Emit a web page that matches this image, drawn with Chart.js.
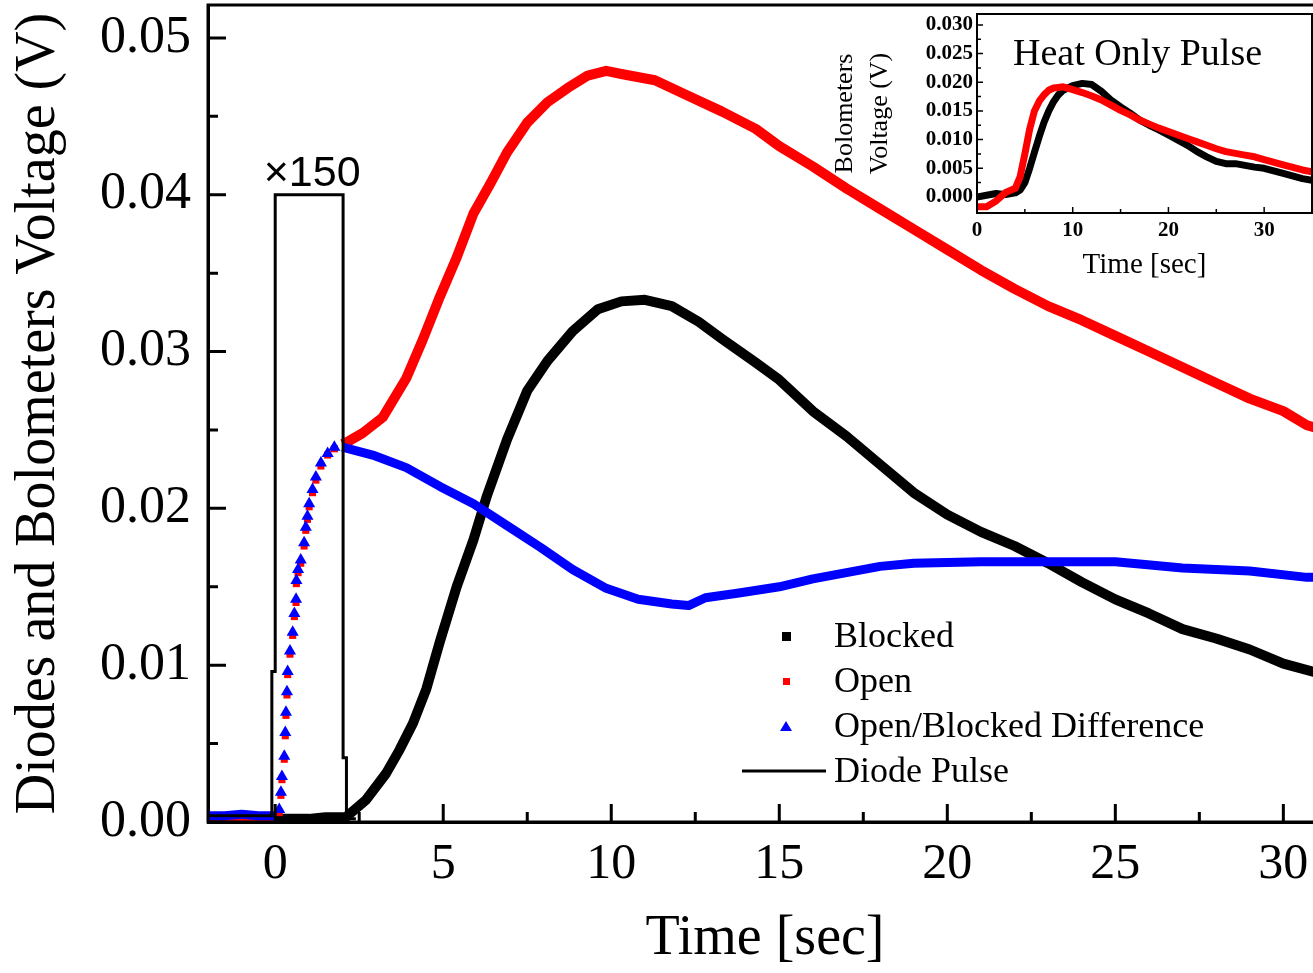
<!DOCTYPE html>
<html>
<head>
<meta charset="utf-8">
<script src="https://cdn.jsdelivr.net/npm/chart.js@4.4.1/dist/chart.umd.min.js"></script>
<style>
  html, body { margin: 0; padding: 0; background: #fff; overflow: hidden; }
  #wrap { position: relative; width: 1313px; height: 973px; overflow: hidden; }
  #main { position: absolute; left: 0; top: 0; }
  #inset { position: absolute; left: 820px; top: 0; }
</style>
</head>
<body>
<div id="wrap">
  <canvas id="main" width="1340" height="973"></canvas>
  <canvas id="inset" width="500" height="295"></canvas>
</div>
<script>
// ---- main plot data (time in s, voltage in V) ----
const blockedTime = [-2, -1, 0, 1, 1.5, 2.1, 2.7, 3.3, 3.7, 4.1, 4.5, 4.9, 5.4, 5.9, 6.3, 6.9, 7.5, 8.1, 8.85, 9.6, 10.3, 11.0, 11.8, 12.6, 13.3, 14.3, 15, 16, 17, 18, 19, 20, 21, 22, 23, 24, 25, 26, 27, 28, 29, 30, 31.2];
const blockedV = [0.0002, 0.0002, 0.0002, 0.0002, 0.0003, 0.0003, 0.0014, 0.0031, 0.0046, 0.0063, 0.0085, 0.0115, 0.015, 0.018, 0.0208, 0.0244, 0.0275, 0.0294, 0.0313, 0.0327, 0.0332, 0.0333, 0.0329, 0.0319, 0.0308, 0.0293, 0.0282, 0.0262, 0.0246, 0.0228, 0.021, 0.0196, 0.0185, 0.0176, 0.0165, 0.0153, 0.0142, 0.0133, 0.0123, 0.0117, 0.011, 0.0101, 0.0094];

const openTime = [-2, -1.5, -1, -0.5, 0, 0.12, 0.17, 0.2, 0.27, 0.3, 0.32, 0.35, 0.37, 0.44, 0.52, 0.57, 0.62, 0.63, 0.68, 0.76, 0.86, 0.91, 0.96, 1.01, 1.11, 1.21, 1.36, 1.56, 1.76, 2.0, 2.2, 2.6, 3.2, 3.9, 4.4, 4.9, 5.4, 5.9, 6.4, 6.9, 7.5, 8.1, 8.7, 9.3, 9.85, 10.3, 11.3, 12.3, 13.3, 14.3, 15, 16, 17, 18, 19, 20, 21, 22, 23, 24, 25, 26, 27, 28, 29, 30, 30.7, 31.2];
const openV = [0.0003, 0.0003, 0.0004, 0.0003, 0.0003, 0.0006, 0.0017, 0.0027, 0.0040, 0.0055, 0.0068, 0.0081, 0.0094, 0.0107, 0.0119, 0.0131, 0.0140, 0.0152, 0.0159, 0.0165, 0.0176, 0.0186, 0.0193, 0.0201, 0.0210, 0.0218, 0.0227, 0.0234, 0.0238, 0.0241, 0.0243, 0.0248, 0.0258, 0.0283, 0.0308, 0.0335, 0.036, 0.0388, 0.0407, 0.0427, 0.0446, 0.0459, 0.0468, 0.0476, 0.0479, 0.0477, 0.0473, 0.0463, 0.0453, 0.0442, 0.0431, 0.0418, 0.0404, 0.0391, 0.0378, 0.0365, 0.0352, 0.034, 0.0329, 0.032, 0.031, 0.03, 0.029, 0.028, 0.027, 0.0262, 0.0253, 0.025];

const diffTime = [-2, -1.5, -1, -0.5, 0, 0.12, 0.17, 0.2, 0.27, 0.3, 0.32, 0.35, 0.37, 0.44, 0.52, 0.57, 0.62, 0.63, 0.68, 0.76, 0.86, 0.91, 0.96, 1.01, 1.11, 1.21, 1.36, 1.56, 1.76, 2.0, 2.9, 3.9, 4.9, 5.9, 6.9, 7.9, 8.85, 9.85, 10.8, 11.8, 12.3, 12.8, 13.8, 15, 16, 17, 18, 19, 21, 23, 25, 27, 29, 30.7, 31.2];
const diffV = [0.0004, 0.0004, 0.0005, 0.0004, 0.0004, 0.0008, 0.0019, 0.0029, 0.0042, 0.0057, 0.0070, 0.0083, 0.0096, 0.0109, 0.0121, 0.0133, 0.0142, 0.0154, 0.0161, 0.0167, 0.0178, 0.0188, 0.0195, 0.0203, 0.0212, 0.0220, 0.0229, 0.0235, 0.0239, 0.0239, 0.0234, 0.0226, 0.0214, 0.0203, 0.0189, 0.0175, 0.0161, 0.0149, 0.0142, 0.0139, 0.0138, 0.0143, 0.0146, 0.015, 0.0155, 0.0159, 0.0163, 0.0165, 0.0166, 0.0166, 0.0166, 0.0162, 0.016, 0.0156, 0.0156];

const pulseTime = [-2, -0.1, -0.1, 0, 0, 2.02, 2.02, 2.12, 2.12, 2.4];
const pulseV = [0.0004, 0.0004, 0.0096, 0.0096, 0.04, 0.04, 0.0041, 0.0041, 0.0002, 0.0002];

const timeTicks = [0, 5, 10, 15, 20, 25, 30];
const timeMinor = [2.5, 7.5, 12.5, 17.5, 22.5, 27.5];
const voltTicks = [0, 0.01, 0.02, 0.03, 0.04, 0.05];
const voltMinor = [0.005, 0.015, 0.025, 0.035, 0.045];

const legendNames = ['Blocked', 'Open', 'Open/Blocked Difference', 'Diode Pulse'];

// ---- inset (heat only pulse) ----
const insetTime = [0, 1, 2, 3, 4, 4.5, 5, 5.5, 6, 6.5, 7, 7.5, 8, 8.5, 9, 10, 11, 12, 13, 14, 15, 16, 17, 18, 19, 20, 21, 22, 23, 24, 25, 26, 27, 28, 29, 30, 32, 34, 35];
const insetBlocked = [0.0, 0.0003, 0.0006, 0.0004, 0.0007, 0.0012, 0.0025, 0.005, 0.0078, 0.0105, 0.013, 0.015, 0.0166, 0.0178, 0.0186, 0.0194, 0.0198, 0.0196, 0.0184, 0.0169, 0.0157, 0.0146, 0.0134, 0.0125, 0.0117, 0.0108, 0.0099, 0.009, 0.0079, 0.007, 0.0062, 0.0058, 0.0058, 0.0055, 0.0052, 0.005, 0.0041, 0.0032, 0.0029];
const insetOpen = [-0.0017, -0.0017, -0.0007, 0.0008, 0.0015, 0.0035, 0.0075, 0.0118, 0.015, 0.0167, 0.0178, 0.0186, 0.019, 0.0191, 0.0192, 0.0187, 0.0182, 0.0176, 0.0169, 0.016, 0.0151, 0.0143, 0.0134, 0.0127, 0.012, 0.0114, 0.0108, 0.0102, 0.0096, 0.009, 0.0084, 0.0079, 0.0076, 0.0073, 0.007, 0.0065, 0.0056, 0.0047, 0.0044];
const insetTimeTicks = [0, 10, 20, 30];
const insetTimeMinor = [5, 15, 25, 35];
const insetVoltTicks = [0, 0.005, 0.01, 0.015, 0.02, 0.025, 0.03];
const insetVoltMinor = [0.0025, 0.0075, 0.0125, 0.0175, 0.0225, 0.0275];

const serif = '"Liberation Serif", "Times New Roman", serif';
const pts = (xs, ys) => xs.map((x, i) => ({ x: x, y: ys[i] }));
const inRise = x => x > 0.05 && x < 1.9;

// box frame + inward ticks, since chart.js has no minor ticks
function framePlugin(cfg) {
  return {
    id: 'frame',
    afterDraw(chart) {
      const { ctx, chartArea: a, scales } = chart;
      ctx.save();
      ctx.strokeStyle = '#000';
      ctx.lineWidth = cfg.frameWidth;
      ctx.strokeRect(a.left, a.top, a.right - a.left, a.bottom - a.top);
      ctx.lineWidth = cfg.tickWidth;
      ctx.beginPath();
      const xt = (list, len) => list.forEach(v => {
        const px = scales.x.getPixelForValue(v);
        ctx.moveTo(px, a.bottom); ctx.lineTo(px, a.bottom - len);
      });
      const yt = (list, len) => list.forEach(v => {
        const py = scales.y.getPixelForValue(v);
        ctx.moveTo(a.left, py); ctx.lineTo(a.left + len, py);
      });
      xt(cfg.xMajor, cfg.major); xt(cfg.xMinor, cfg.minor);
      yt(cfg.yMajor, cfg.major); yt(cfg.yMinor, cfg.minor);
      ctx.stroke();
      ctx.restore();
      if (cfg.extra) cfg.extra(chart);
    }
  };
}

function mainExtras(chart) {
  const { ctx, scales } = chart;
  ctx.save();
  // x150 label over the diode pulse
  ctx.fillStyle = '#000';
  ctx.font = '43px "Liberation Sans", Arial, sans-serif';
  ctx.textAlign = 'center';
  ctx.textBaseline = 'alphabetic';
  ctx.fillText('\u00d7150', scales.x.getPixelForValue(1.1), scales.y.getPixelForValue(0.04) - 9);

  // legend
  const lx = 786, tx = 834, rows = [636, 681, 726, 771];
  ctx.font = '36px ' + serif;
  ctx.textAlign = 'left';
  ctx.textBaseline = 'middle';
  rows.forEach((y, i) => {
    ctx.fillStyle = '#000';
    ctx.fillText(legendNames[i], tx, y + 2);
  });
  ctx.fillStyle = '#000';
  ctx.fillRect(lx - 4, rows[0] - 4, 9, 9);
  ctx.fillStyle = '#ff0000';
  ctx.fillRect(lx - 3, rows[1] - 3, 7, 7);
  ctx.fillStyle = '#0000ff';
  ctx.beginPath();
  ctx.moveTo(lx, rows[2] - 5); ctx.lineTo(lx + 6, rows[2] + 5); ctx.lineTo(lx - 6, rows[2] + 5);
  ctx.closePath(); ctx.fill();
  ctx.strokeStyle = '#000';
  ctx.lineWidth = 3;
  ctx.beginPath(); ctx.moveTo(742, rows[3]); ctx.lineTo(826, rows[3]); ctx.stroke();
  ctx.restore();
}

function insetExtras(chart) {
  const { ctx, chartArea: a } = chart;
  ctx.save();
  ctx.fillStyle = '#000';
  ctx.font = '38px ' + serif;
  ctx.textAlign = 'left';
  ctx.textBaseline = 'alphabetic';
  ctx.fillText('Heat Only Pulse', a.left + 36, a.top + 51);
  ctx.restore();
}

const noPadY = s => { s.paddingTop = 0; s.paddingBottom = 0; };
const noPadX = s => { s.paddingLeft = 0; s.paddingRight = 0; };

new Chart(document.getElementById('main'), {
  type: 'line',
  data: {
    datasets: [
      {
        label: legendNames[3], data: pts(pulseTime, pulseV),
        borderColor: '#000', borderWidth: 3, pointRadius: 0, tension: 0
      },
      {
        label: legendNames[2], data: pts(diffTime, diffV),
        borderColor: '#0000ff', backgroundColor: '#0000ff', borderWidth: 9,
        pointStyle: 'triangle', pointBorderWidth: 0,
        pointRadius: c => (c.raw && inRise(c.raw.x)) ? 7 : 0,
        segment: { borderColor: c => (c.p1.parsed.x > 0.01 && c.p0.parsed.x < 1.8) ? 'rgba(0,0,0,0)' : undefined },
        tension: 0, borderJoinStyle: 'round'
      },
      {
        label: legendNames[1], data: pts(openTime, openV),
        borderColor: '#ff0000', backgroundColor: '#ff0000', borderWidth: 10,
        pointStyle: 'rect', pointBorderWidth: 0,
        pointRadius: c => (c.raw && inRise(c.raw.x)) ? 5 : 0,
        segment: { borderColor: c => (c.p1.parsed.x > 0.01 && c.p0.parsed.x < 1.8) ? 'rgba(0,0,0,0)' : undefined },
        tension: 0, borderJoinStyle: 'round'
      },
      {
        label: legendNames[0], data: pts(blockedTime, blockedV),
        borderColor: '#000', borderWidth: 10, pointRadius: 0,
        tension: 0, borderJoinStyle: 'round'
      }
    ]
  },
  options: {
    responsive: false, animation: false, devicePixelRatio: 1,
    layout: { padding: { top: 5, right: 18, bottom: 0, left: 0 } },
    plugins: { legend: { display: false }, tooltip: { enabled: false } },
    scales: {
      x: {
        type: 'linear', min: -2, max: 31.15,
        afterFit: s => { s.height = 151; noPadX(s); },
        afterBuildTicks: s => { s.ticks = timeTicks.map(v => ({ value: v })); },
        grid: { display: false, drawTicks: false },
        border: { display: true, color: '#000', width: 3 },
        ticks: { color: '#000', font: { family: serif, size: 50 }, padding: 13, maxRotation: 0, autoSkip: false, callback: v => String(v) },
        title: { display: true, text: 'Time [sec]', color: '#000', font: { family: serif, size: 56 }, padding: { top: 0, bottom: 0 } }
      },
      y: {
        type: 'linear', min: 0, max: 0.0521,
        afterFit: s => { s.width = 208; noPadY(s); },
        afterBuildTicks: s => { s.ticks = voltTicks.map(v => ({ value: v })); },
        grid: { display: false, drawTicks: false },
        border: { display: true, color: '#000', width: 3 },
        ticks: { color: '#000', font: { family: serif, size: 52 }, padding: 17, autoSkip: false, callback: v => v.toFixed(2) },
        title: { display: true, text: 'Diodes and Bolometers Voltage (V)', color: '#000', font: { family: serif, size: 56 }, padding: { top: 6, bottom: 0 } }
      }
    }
  },
  plugins: [framePlugin({
    frameWidth: 3, tickWidth: 3, major: 18, minor: 10,
    xMajor: timeTicks, xMinor: timeMinor, yMajor: voltTicks, yMinor: voltMinor,
    extra: mainExtras
  })]
});

new Chart(document.getElementById('inset'), {
  type: 'line',
  data: {
    datasets: [
      {
        label: 'Open', data: pts(insetTime, insetOpen),
        borderColor: '#ff0000', borderWidth: 7, pointRadius: 0, tension: 0, borderJoinStyle: 'round'
      },
      {
        label: 'Blocked', data: pts(insetTime, insetBlocked),
        borderColor: '#000', borderWidth: 7, pointRadius: 0, tension: 0, borderJoinStyle: 'round'
      }
    ]
  },
  options: {
    responsive: false, animation: false, devicePixelRatio: 1,
    layout: { padding: { top: 14, right: 8, bottom: 0, left: 0 } },
    plugins: { legend: { display: false }, tooltip: { enabled: false } },
    scales: {
      x: {
        type: 'linear', min: 0, max: 35,
        afterFit: s => { s.height = 82; noPadX(s); },
        afterBuildTicks: s => { s.ticks = insetTimeTicks.map(v => ({ value: v })); },
        grid: { display: false, drawTicks: false },
        border: { display: true, color: '#000', width: 2 },
        ticks: { color: '#000', font: { family: serif, size: 21, weight: 'bold' }, padding: 5, maxRotation: 0, autoSkip: false, callback: v => String(v) },
        title: { display: true, text: 'Time [sec]', color: '#000', font: { family: serif, size: 29 }, padding: { top: 0, bottom: 12 } }
      },
      y: {
        type: 'linear', min: -0.0028, max: 0.0319,
        afterFit: s => { s.width = 157; noPadY(s); },
        afterBuildTicks: s => { s.ticks = insetVoltTicks.map(v => ({ value: v })); },
        grid: { display: false, drawTicks: false },
        border: { display: true, color: '#000', width: 2 },
        ticks: { color: '#000', font: { family: serif, size: 21, weight: 'bold' }, padding: 4, autoSkip: false, callback: v => v.toFixed(3) },
        title: { display: true, text: ['Bolometers', 'Voltage (V)'], color: '#000', font: { family: serif, size: 26, lineHeight: 1.35 }, padding: { top: 8, bottom: 0 } }
      }
    }
  },
  plugins: [framePlugin({
    frameWidth: 2, tickWidth: 1.5, major: 6, minor: 4,
    xMajor: insetTimeTicks, xMinor: insetTimeMinor, yMajor: insetVoltTicks, yMinor: insetVoltMinor,
    extra: insetExtras
  })]
});
</script>
</body>
</html>
